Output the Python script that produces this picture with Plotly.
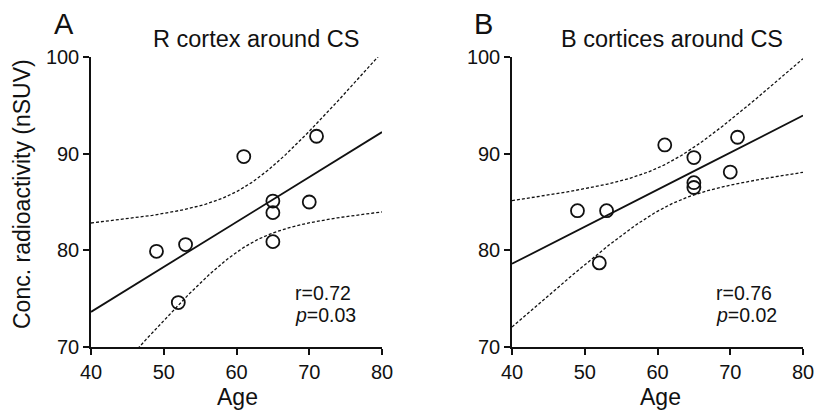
import numpy as np
import plotly.graph_objects as go

# ---- data ----
age = [49, 53, 52, 61, 65, 65, 65, 70, 71]
r_cortex = [79.9, 80.6, 74.6, 89.7, 85.1, 83.9, 80.9, 85.0, 91.8]
b_cortices = [84.1, 84.1, 78.7, 90.9, 89.6, 87.0, 86.5, 88.1, 91.7]
panel_letters = ["A", "B"]
panel_titles = ["R cortex around CS", "B cortices around CS"]
r_texts = ["r=0.72", "r=0.76"]
p_texts = ["<i>p</i>=0.03", "<i>p</i>=0.02"]
x_ticks = [40, 50, 60, 70, 80]
y_ticks = [70, 80, 90, 100]
T975_DF7 = 2.365  # t quantile for 95% CI, n-2 = 7

W, H = 815, 411
FONT = "Liberation Sans, Arial, sans-serif"
INK = "#111111"


def fit_band(x, y, grid):
    x = np.asarray(x, float)
    y = np.asarray(y, float)
    n = len(x)
    slope, icpt = np.polyfit(x, y, 1)
    pred = slope * grid + icpt
    resid = y - (slope * x + icpt)
    s = np.sqrt(np.sum(resid ** 2) / (n - 2))
    sxx = np.sum((x - x.mean()) ** 2)
    se = s * np.sqrt(1.0 / n + (grid - x.mean()) ** 2 / sxx)
    return pred, pred - T975_DF7 * se, pred + T975_DF7 * se


fig = go.Figure()
grid = np.linspace(x_ticks[0], x_ticks[-1], 300)

# domains in pixel terms
xdom = [[91 / W, 382 / W], [512 / W, 803 / W]]
ydom = [1 - 347 / H, 1 - 57 / H]

series = [r_cortex, b_cortices]
for i, ys in enumerate(series):
    xa = "x" if i == 0 else "x2"
    ya = "y" if i == 0 else "y2"
    pred, lo, hi = fit_band(age, ys, grid)
    for band in (lo, hi):
        fig.add_trace(go.Scatter(x=grid, y=band, mode="lines", xaxis=xa, yaxis=ya,
                                 line=dict(color=INK, width=1.3, dash="3px,2px"),
                                 showlegend=False, hoverinfo="skip"))
    fig.add_trace(go.Scatter(x=grid, y=pred, mode="lines", xaxis=xa, yaxis=ya,
                             line=dict(color=INK, width=1.8), showlegend=False))
    fig.add_trace(go.Scatter(x=age, y=ys, mode="markers", xaxis=xa, yaxis=ya,
                             marker=dict(symbol="circle-open", size=13, color=INK,
                                         line=dict(width=1.8, color=INK)),
                             showlegend=False))

axis_common = dict(showline=True, linecolor=INK, linewidth=1.5, ticks="outside",
                   ticklen=6, tickwidth=1.5, tickcolor=INK, showgrid=False,
                   zeroline=False, tickfont=dict(family=FONT, size=20, color=INK),
                   automargin=False)

fig.update_layout(
    width=W, height=H, margin=dict(l=0, r=0, t=0, b=0),
    paper_bgcolor="white", plot_bgcolor="white",
    font=dict(family=FONT, color=INK),
    xaxis=dict(domain=xdom[0], range=[40, 80], tickvals=x_ticks, anchor="y", **axis_common),
    yaxis=dict(domain=ydom, range=[70, 100], tickvals=y_ticks, anchor="x", **axis_common),
    xaxis2=dict(domain=xdom[1], range=[40, 80], tickvals=x_ticks, anchor="y2", **axis_common),
    yaxis2=dict(domain=ydom, range=[70, 100], tickvals=y_ticks, anchor="x2", **axis_common),
)

ann = []
letter_x = [64 / W, 483 / W]
title_x = [256 / W, 672 / W]
age_x = [237 / W, 660 / W]
for i in range(2):
    xr = "x" if i == 0 else "x2"
    yr = "y" if i == 0 else "y2"
    ann.append(dict(text=panel_letters[i], x=letter_x[i], y=1 - 24 / H, xref="paper", yref="paper",
                    showarrow=False, xanchor="center", yanchor="middle",
                    font=dict(family=FONT, size=29, color=INK)))
    ann.append(dict(text=panel_titles[i], x=title_x[i], y=1 - 39 / H, xref="paper", yref="paper",
                    showarrow=False, xanchor="center", yanchor="middle",
                    font=dict(family=FONT, size=23.5, color=INK)))
    ann.append(dict(text="Age", x=age_x[i], y=1 - 397 / H, xref="paper", yref="paper",
                    showarrow=False, xanchor="center", yanchor="middle",
                    font=dict(family=FONT, size=23, color=INK)))
    ann.append(dict(text=r_texts[i], x=67.7, y=75.6, xref=xr, yref=yr, showarrow=False,
                    xanchor="left", yanchor="middle", font=dict(family=FONT, size=19.5, color=INK)))
    ann.append(dict(text=p_texts[i], x=67.7, y=73.3, xref=xr, yref=yr, showarrow=False,
                    xanchor="left", yanchor="middle", font=dict(family=FONT, size=19.5, color=INK)))

ann.append(dict(text="Conc. radioactivity (nSUV)", x=22 / W, y=1 - 194 / H, xref="paper", yref="paper",
                showarrow=False, textangle=-90, xanchor="center", yanchor="middle",
                font=dict(family=FONT, size=23, color=INK)))
fig.update_layout(annotations=ann)

fig.write_html("out.html")
